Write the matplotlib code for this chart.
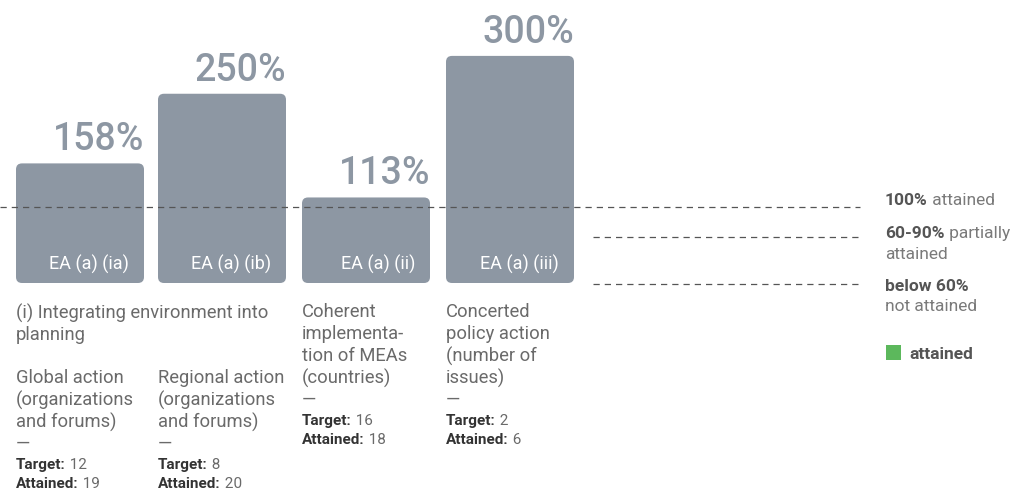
import matplotlib.pyplot as plt
from matplotlib.patches import FancyBboxPatch, Rectangle

plt.rcParams['font.family'] = ['Roboto', 'DejaVu Sans']

codes = ['EA (a) (ia)', 'EA (a) (ib)', 'EA (a) (ii)', 'EA (a) (iii)']
percent = [158, 250, 113, 300]
targets = [12, 8, 16, 2]
attained = [19, 20, 18, 6]
descriptions = [
    ['Global action', '(organizations', 'and forums)', '—'],
    ['Regional action', '(organizations', 'and forums)', '—'],
    ['Coherent', 'implementa-', 'tion of MEAs', '(countries)', '—'],
    ['Concerted', 'policy action', '(number of', 'issues)', '—'],
]
group_title = ['(i) Integrating environment into', 'planning']

bar_color = '#8d97a3'
text_color = '#6a6a6a'
dark_text = '#333333'

W, H = 1021, 490
fig = plt.figure(figsize=(W / 100, H / 100), dpi=100)

# bars: x in pixels, y in percent (0.757 px per percent, baseline 207 px from bottom)
px_per_pct = 0.757
ax = fig.add_axes([0, 0, 1, 1])
ax.set_xlim(0, W)
ax.set_ylim(-207 / px_per_pct, (H - 207) / px_per_pct)
ax.axis('off')

# overlay in pixel coordinates for the text blocks and legend
ov = fig.add_axes([0, 0, 1, 1])
ov.set_xlim(0, W)
ov.set_ylim(H, 0)
ov.axis('off')

bar_left = [16, 158, 302, 446]
bar_w = 128
for x0, p, code in zip(bar_left, percent, codes):
    patch = FancyBboxPatch((x0, 0), bar_w, p,
                           boxstyle='round,pad=0,rounding_size=6',
                           mutation_aspect=1 / px_per_pct,
                           fc=bar_color, ec='none', zorder=1)
    ax.add_patch(patch)
    ax.text(x0 + bar_w, p + 5 / px_per_pct, f'{p}%', ha='right', va='bottom',
            fontsize=27, color=bar_color, fontweight='medium')
    ax.text(x0 + bar_w - 15, 19 / px_per_pct, code, ha='right', va='center',
            fontsize=13, color='white')

# 100% reference line
ax.axhline(100, xmin=0, xmax=860 / W, color='#555555', lw=0.9,
           dashes=(5, 4), zorder=2)

# legend lines
for y in (237, 284):
    ov.plot([593, 860], [y, y], color='#555555', lw=0.9, dashes=(5, 4))

fs_legend = 12.5
leg_light = '#7a7a7a'
def two_part(x, y, bold, rest):
    t = ov.text(x, y, bold, ha='left', va='center', fontsize=fs_legend,
                color='#555555', fontweight='bold')
    if rest:
        ov.annotate(' ' + rest, xycoords=t, xy=(1, 0.5), va='center', ha='left',
                    fontsize=fs_legend, color=leg_light)

two_part(885, 200, '100%', 'attained')
two_part(885, 233, '60-90%', 'partially')
ov.text(885, 254, 'attained', ha='left', va='center', fontsize=fs_legend, color=leg_light)
two_part(885, 286, 'below 60%', '')
ov.text(885, 306, 'not attained', ha='left', va='center', fontsize=fs_legend, color=leg_light)
ov.add_patch(Rectangle((886, 345), 15, 15, fc='#5cb85c', ec='none'))
ov.text(909, 354, 'attained', ha='left', va='center', fontsize=fs_legend,
        color='#555555', fontweight='bold')

# descriptive text under bars
fs_body = 13.2
for i, line in enumerate(group_title):
    ov.text(16, 313 + 22 * i, line, ha='left', va='center', fontsize=fs_body, color=text_color)

starts = [378, 378, 312, 312]
for x0, lines, t, a, y0 in zip(bar_left, descriptions, targets, attained, starts):
    for i, line in enumerate(lines):
        ov.text(x0, y0 + 22 * i, line, ha='left', va='center', fontsize=fs_body,
                color=text_color)
    yt = y0 + 22 * len(lines) - 1
    for j, (lab, val) in enumerate((('Target:', t), ('Attained:', a))):
        tt = ov.text(x0, yt + 19 * j, lab, ha='left', va='center', fontsize=11,
                     color=dark_text, fontweight='bold')
        ov.annotate(f' {val}', xycoords=tt, xy=(1, 0.5), ha='left', va='center',
                    fontsize=11, color=text_color)

fig.savefig('out.png', dpi=100, facecolor='white')
